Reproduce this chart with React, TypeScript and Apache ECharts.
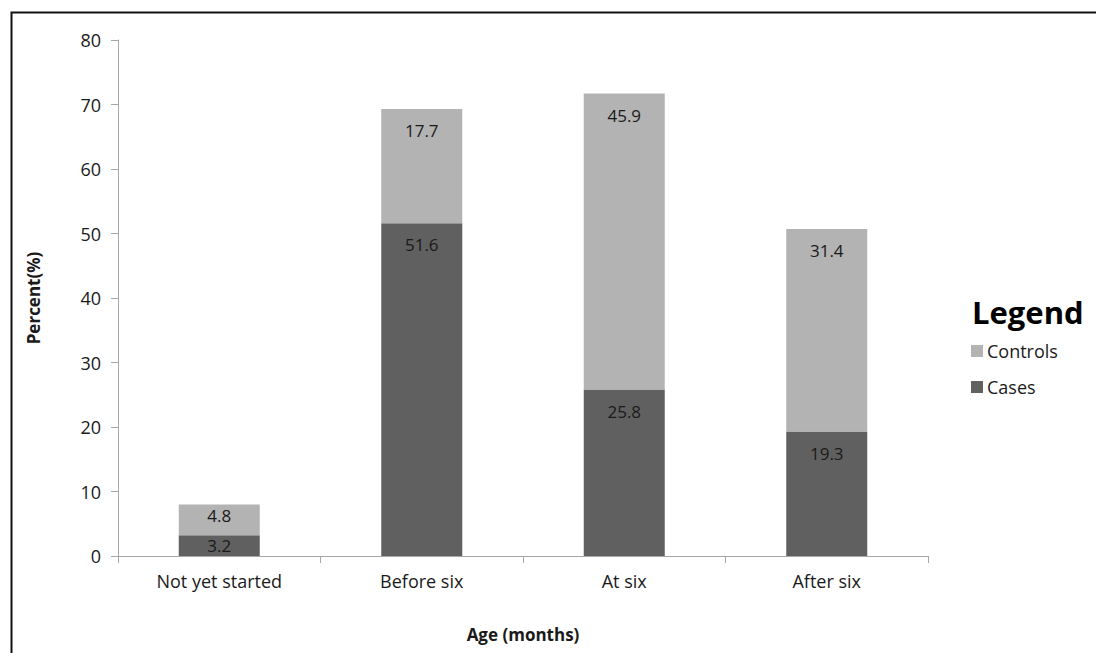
import React, { useEffect, useRef } from "react";
import * as echarts from "echarts";

const categories = ["Not yet started", "Before six", "At six", "After six"];
const casesValues = [3.2, 51.6, 25.8, 19.3];
const controlsValues = [4.8, 17.7, 45.9, 31.4];
const yTicks = [0, 10, 20, 30, 40, 50, 60, 70, 80];

const FONT = "'Open Sans', sans-serif";

function toData(values: number[]) {
  return values.map((v) =>
    v < 4
      ? { value: v, label: { position: "inside" } }
      : v < 6
      ? { value: v, label: { position: "insideTop", distance: 3 } }
      : { value: v }
  );
}

export default function App() {
  const ref = useRef<HTMLDivElement>(null);
  useEffect(() => {
    if (!ref.current) return;
    const chart = echarts.init(ref.current, null, { renderer: "svg" });
    const label = {
      show: true,
      position: "insideTop",
      distance: 13,
      color: "#1a1a1a",
      fontSize: 17,
      fontFamily: FONT,
    };
    chart.setOption({
      animation: false,
      backgroundColor: "#ffffff",
      textStyle: { fontFamily: FONT },
      graphic: [
        {
          type: "rect",
          shape: { x: 11.5, y: 12.5, width: 1200, height: 800 },
          style: { fill: "none", stroke: "#111", lineWidth: 2 },
          silent: true,
        },
        {
          type: "text",
          left: 972,
          top: 296,
          style: {
            text: "Legend",
            fontSize: 31,
            fontWeight: "bold",
            fontFamily: FONT,
            fill: "#000",
          },
        },
      ],
      legend: {
        orient: "vertical",
        left: 966,
        top: 337,
        itemWidth: 12,
        itemHeight: 12,
        itemGap: 18,
        icon: "rect",
        data: ["Controls", "Cases"],
        textStyle: { fontSize: 18, color: "#1a1a1a", fontFamily: FONT, padding: [0, 0, 0, -1] },
      },
      grid: { left: 118, right: 168, top: 40, bottom: 97 },
      xAxis: {
        type: "category",
        data: categories,
        name: "Age (months)",
        nameLocation: "middle",
        nameGap: 70,
        nameTextStyle: { fontSize: 17, fontWeight: "bold", color: "#1a1a1a", fontFamily: FONT },
        axisLine: { lineStyle: { color: "#a6a6a6" } },
        axisTick: { show: true, alignWithLabel: false, length: 7, lineStyle: { color: "#a6a6a6" } },
        axisLabel: { fontSize: 18, color: "#1a1a1a", margin: 16, fontFamily: FONT },
      },
      yAxis: {
        type: "value",
        min: 0,
        max: 80,
        interval: 10,
        name: "Percent(%)",
        nameLocation: "middle",
        nameGap: 76,
        nameTextStyle: { fontSize: 17, fontWeight: "bold", color: "#1a1a1a", fontFamily: FONT },
        axisLine: { show: true, lineStyle: { color: "#a6a6a6" } },
        axisTick: { show: true, length: 7, lineStyle: { color: "#a6a6a6" } },
        splitLine: { show: false },
        axisLabel: {
          fontSize: 18,
          color: "#1a1a1a",
          margin: 17,
          fontFamily: FONT,
          formatter: (v: number) => (yTicks.includes(v) ? String(v) : ""),
        },
      },
      series: [
        {
          name: "Cases",
          type: "bar",
          stack: "total",
          barWidth: "40%",
          data: toData(casesValues),
          itemStyle: { color: "#606060" },
          label,
        },
        {
          name: "Controls",
          type: "bar",
          stack: "total",
          barWidth: "40%",
          data: toData(controlsValues),
          itemStyle: { color: "#b3b3b3" },
          label,
        },
      ],
    });
    return () => chart.dispose();
  }, []);
  return (
    <div
      ref={ref}
      style={{ position: "fixed", left: 0, top: 0, width: 1096, height: 653 }}
    />
  );
}
